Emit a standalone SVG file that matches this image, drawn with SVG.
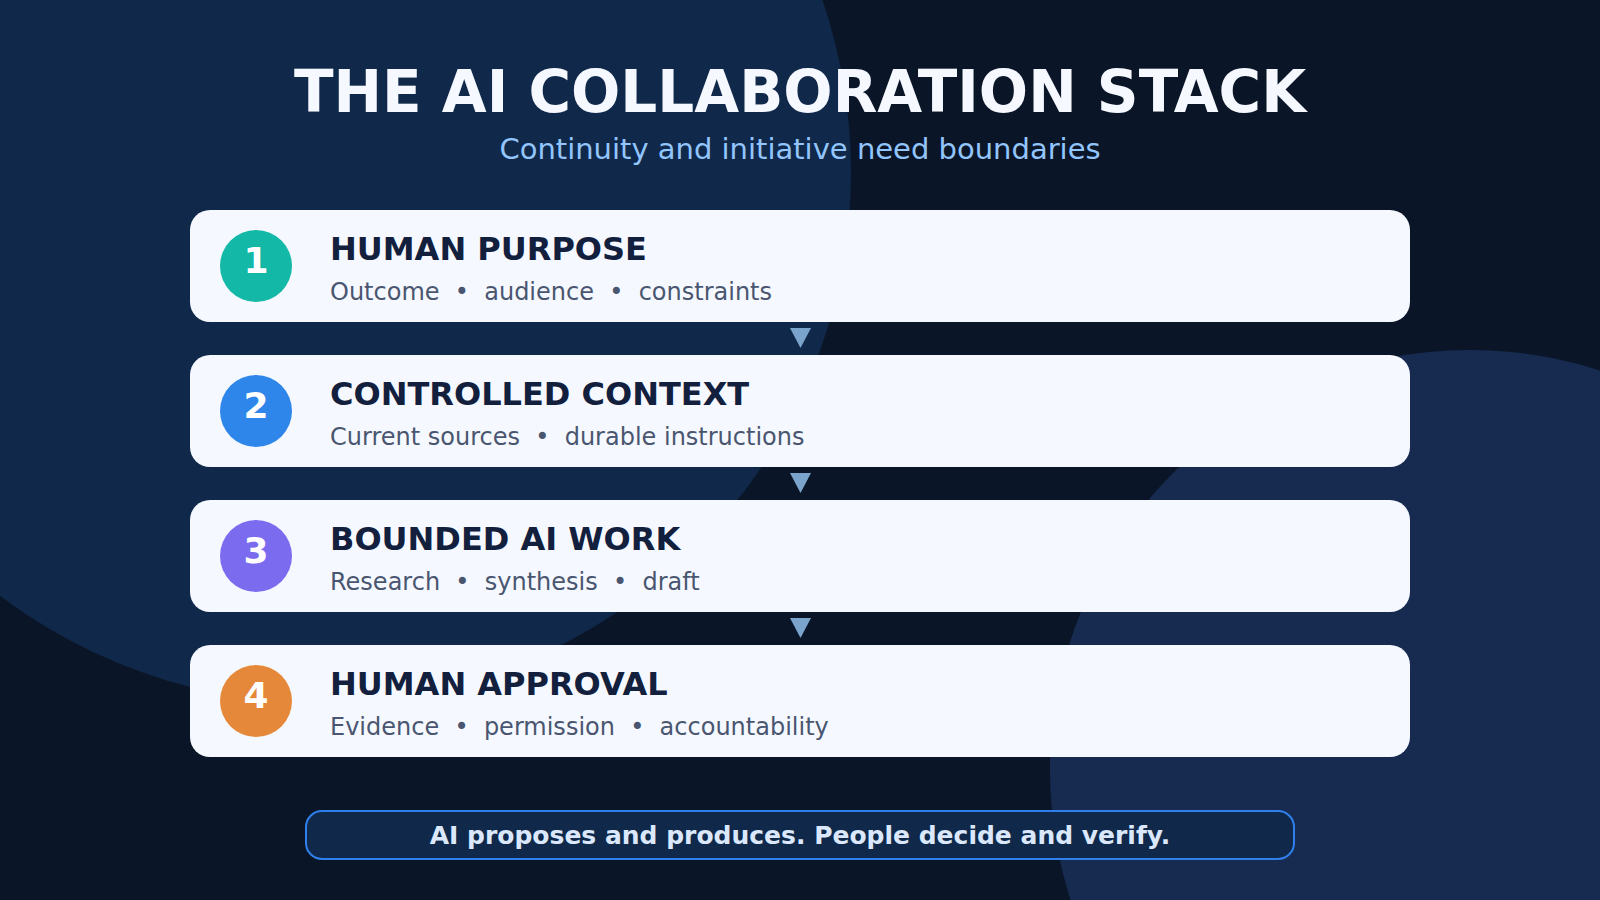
<svg xmlns="http://www.w3.org/2000/svg" width="1600" height="900" viewBox="0 0 1600 900">
  <style>
    text { font-family: "DejaVu Sans", "Noto Sans", sans-serif; }
    .title { font-size: 58px; font-weight: bold; fill: #f5f8ff; }
    .subtitle { font-size: 29px; fill: #93c5fd; }
    .card { fill: #f5f9ff; }
    .num { font-size: 36px; font-weight: bold; fill: #ffffff; text-anchor: middle; }
    .head { font-size: 32px; font-weight: bold; fill: #12203e; }
    .sub { font-size: 24px; fill: #4a5670; white-space: pre; }
    .arrow { fill: #7aa4cb; }
    .banner { fill: #10284a; stroke: #2f80ed; stroke-width: 2; }
    .banner-text { font-size: 25px; font-weight: bold; fill: #dbe8fc; text-anchor: middle; }
  </style>

  <g id="background">
    <rect x="0" y="0" width="1600" height="900" fill="#0a1628"/>
    <circle cx="320" cy="172" r="531" fill="#10294a"/>
    <circle cx="1470" cy="770" r="420" fill="#172a50"/>
  </g>

  <g id="header">
    <text class="title" x="800" y="112" text-anchor="middle">THE AI COLLABORATION STACK</text>
    <text class="subtitle" x="800" y="159" text-anchor="middle">Continuity and initiative need boundaries</text>
  </g>

  <g id="connectors">
    <polygon class="arrow" points="790,328 811,328 800.5,348"/>
    <polygon class="arrow" points="790,473 811,473 800.5,493"/>
    <polygon class="arrow" points="790,618 811,618 800.5,638"/>
  </g>

  <g id="node-1">
    <rect class="card" x="190" y="210" width="1220" height="112" rx="20"/>
    <circle cx="256" cy="266" r="36" fill="#14b8a6"/>
    <text class="num" x="256" y="273">1</text>
    <text class="head" x="330" y="260">HUMAN PURPOSE</text>
    <text class="sub" x="330" y="300" xml:space="preserve">Outcome  •  audience  •  constraints</text>
  </g>

  <g id="node-2">
    <rect class="card" x="190" y="355" width="1220" height="112" rx="20"/>
    <circle cx="256" cy="411" r="36" fill="#2e86ea"/>
    <text class="num" x="256" y="418">2</text>
    <text class="head" x="330" y="405">CONTROLLED CONTEXT</text>
    <text class="sub" x="330" y="445" xml:space="preserve">Current sources  •  durable instructions</text>
  </g>

  <g id="node-3">
    <rect class="card" x="190" y="500" width="1220" height="112" rx="20"/>
    <circle cx="256" cy="556" r="36" fill="#7b6bef"/>
    <text class="num" x="256" y="563">3</text>
    <text class="head" x="330" y="550">BOUNDED AI WORK</text>
    <text class="sub" x="330" y="590" xml:space="preserve">Research  •  synthesis  •  draft</text>
  </g>

  <g id="node-4">
    <rect class="card" x="190" y="645" width="1220" height="112" rx="20"/>
    <circle cx="256" cy="701" r="36" fill="#e5883a"/>
    <text class="num" x="256" y="708">4</text>
    <text class="head" x="330" y="695">HUMAN APPROVAL</text>
    <text class="sub" x="330" y="735" xml:space="preserve">Evidence  •  permission  •  accountability</text>
  </g>

  <g id="banner">
    <rect class="banner" x="306" y="811" width="988" height="48" rx="16"/>
    <text class="banner-text" x="800" y="844">AI proposes and produces. People decide and verify.</text>
  </g>
</svg>
